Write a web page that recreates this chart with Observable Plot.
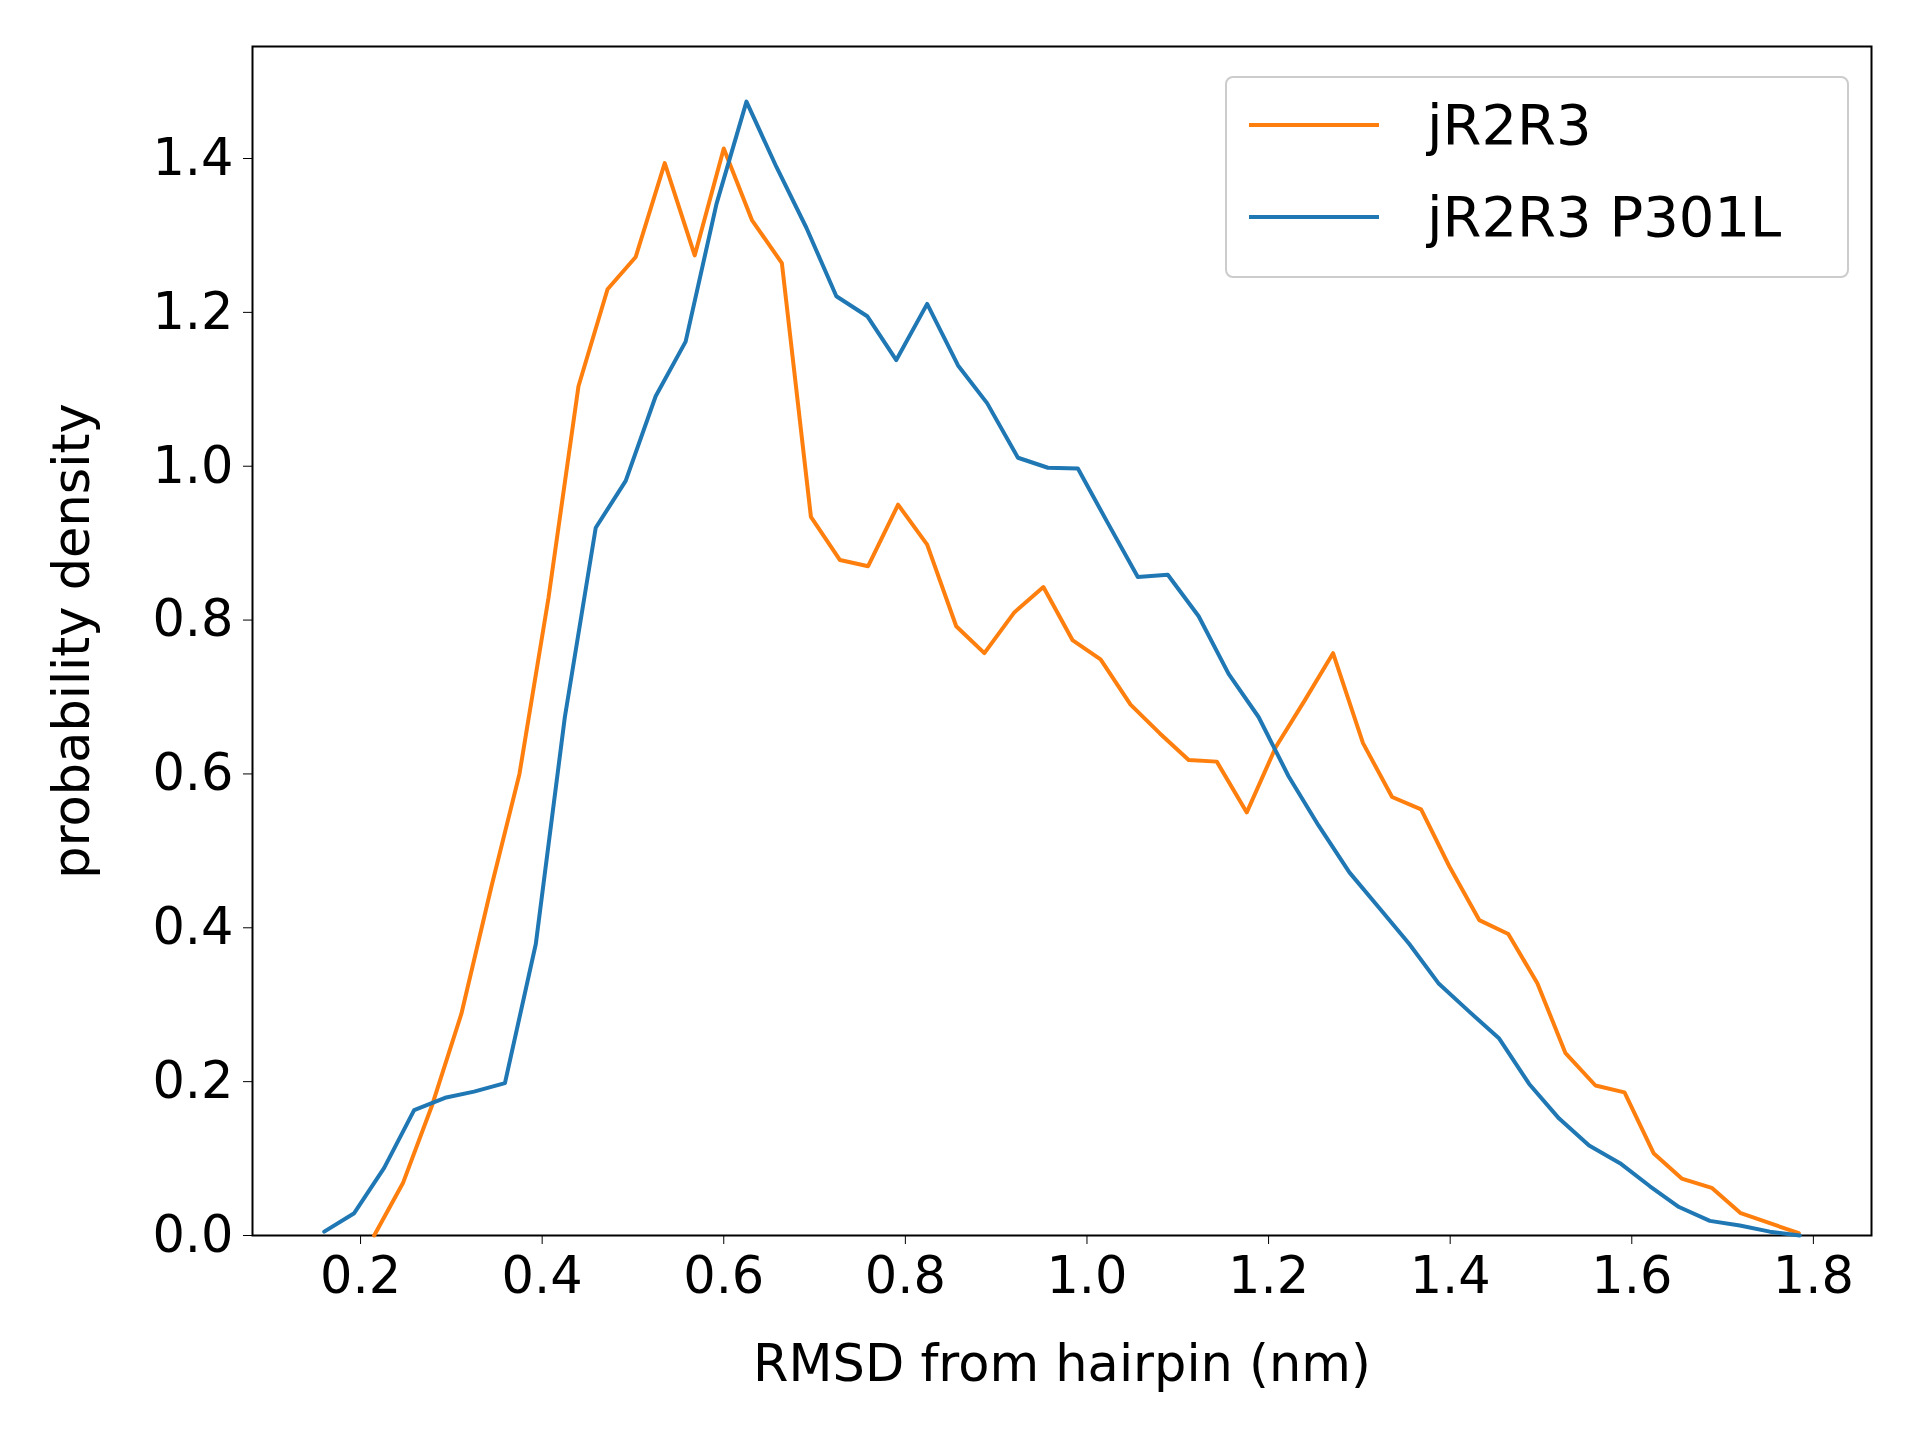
<!DOCTYPE html>
<html><head><meta charset="utf-8">
<script src="https://cdn.jsdelivr.net/npm/d3@7"></script>
<script src="https://cdn.jsdelivr.net/npm/@observablehq/plot@0.6"></script>
<style>
body{margin:0;background:#fff;font-family:"DejaVu Sans",sans-serif}
#wrap{position:relative;width:1920px;height:1440px}
#legend{position:absolute;left:1225px;top:76px;width:624px;height:202px;border:2px solid #ccc;border-radius:8px;background:rgba(255,255,255,0.8);box-sizing:border-box;font-size:56px}
.row{position:absolute;left:22px;display:flex;align-items:center}
.sw{width:130px;height:4px;margin-right:48px}
</style></head><body>
<div id="wrap"><div id="chart"></div>
<div id="legend">
<div class="row" style="top:14px"><div class="sw" style="background:#ff7f0e"></div>jR2R3</div>
<div class="row" style="top:106px"><div class="sw" style="background:#1f77b4"></div>jR2R3 P301L</div>
</div></div>
<script>
const wtX=[0.215,0.247,0.279,0.311,0.344,0.375,0.407,0.440,0.472,0.503,0.535,0.568,0.600,0.631,0.664,0.696,0.728,0.759,0.792,0.824,0.856,0.887,0.920,0.952,0.984,1.015,1.048,1.080,1.112,1.143,1.176,1.208,1.240,1.271,1.304,1.336,1.368,1.399,1.432,1.464,1.496,1.527,1.560,1.592,1.624,1.655,1.688,1.720,1.752,1.784];
const wtY=[0,0.069,0.17,0.288,0.453,0.60,0.829,1.104,1.23,1.272,1.394,1.274,1.413,1.32,1.264,0.934,0.878,0.870,0.950,0.898,0.792,0.757,0.810,0.843,0.774,0.749,0.690,0.653,0.618,0.616,0.550,0.635,0.696,0.757,0.640,0.570,0.554,0.480,0.410,0.392,0.328,0.237,0.195,0.186,0.107,0.074,0.062,0.029,0.016,0.003];
const muX=[0.160,0.193,0.226,0.259,0.293,0.325,0.359,0.393,0.425,0.459,0.492,0.525,0.558,0.592,0.625,0.658,0.691,0.724,0.758,0.790,0.824,0.858,0.890,0.924,0.957,0.990,1.023,1.056,1.089,1.123,1.156,1.189,1.222,1.255,1.289,1.321,1.355,1.387,1.421,1.454,1.487,1.520,1.553,1.587,1.620,1.652,1.686,1.719,1.752,1.785];
const muY=[0.005,0.029,0.088,0.163,0.179,0.187,0.198,0.379,0.674,0.920,0.981,1.091,1.162,1.341,1.474,1.389,1.310,1.221,1.195,1.138,1.211,1.131,1.082,1.011,0.998,0.997,0.926,0.856,0.859,0.805,0.730,0.674,0.597,0.533,0.472,0.427,0.379,0.328,0.291,0.256,0.197,0.152,0.117,0.094,0.064,0.037,0.019,0.013,0.005,0];
const xTicks=[0.2,0.4,0.6,0.8,1.0,1.2,1.4,1.6,1.8];
const yTicks=[0,0.2,0.4,0.6,0.8,1.0,1.2,1.4];
const wt=wtX.map((x,i)=>({x,y:wtY[i]})), mu=muX.map((x,i)=>({x,y:muY[i]}));
const p=Plot.plot({width:1920,height:1440,marginLeft:252,marginRight:49,marginTop:46,marginBottom:205,
 style:{fontSize:"51px",fontFamily:"DejaVu Sans",color:"#000",background:"#fff"},
 x:{domain:[0.081,1.864],ticks:xTicks,tickFormat:d=>d.toFixed(1),tickSize:9,tickPadding:12,label:"RMSD from hairpin (nm)",labelAnchor:"center",labelArrow:"none",labelOffset:145},
 y:{domain:[0,1.5456],ticks:yTicks,tickFormat:d=>d.toFixed(1),tickSize:9,tickPadding:10,label:"probability density",labelAnchor:"center",labelArrow:"none",labelOffset:200},
 marks:[
  Plot.frame({stroke:"#000",strokeWidth:2}),
  Plot.line(wt,{x:"x",y:"y",stroke:"#ff7f0e",strokeWidth:4}),
  Plot.line(mu,{x:"x",y:"y",stroke:"#1f77b4",strokeWidth:4})
 ]});
document.getElementById("chart").appendChild(p);
</script></body></html>
